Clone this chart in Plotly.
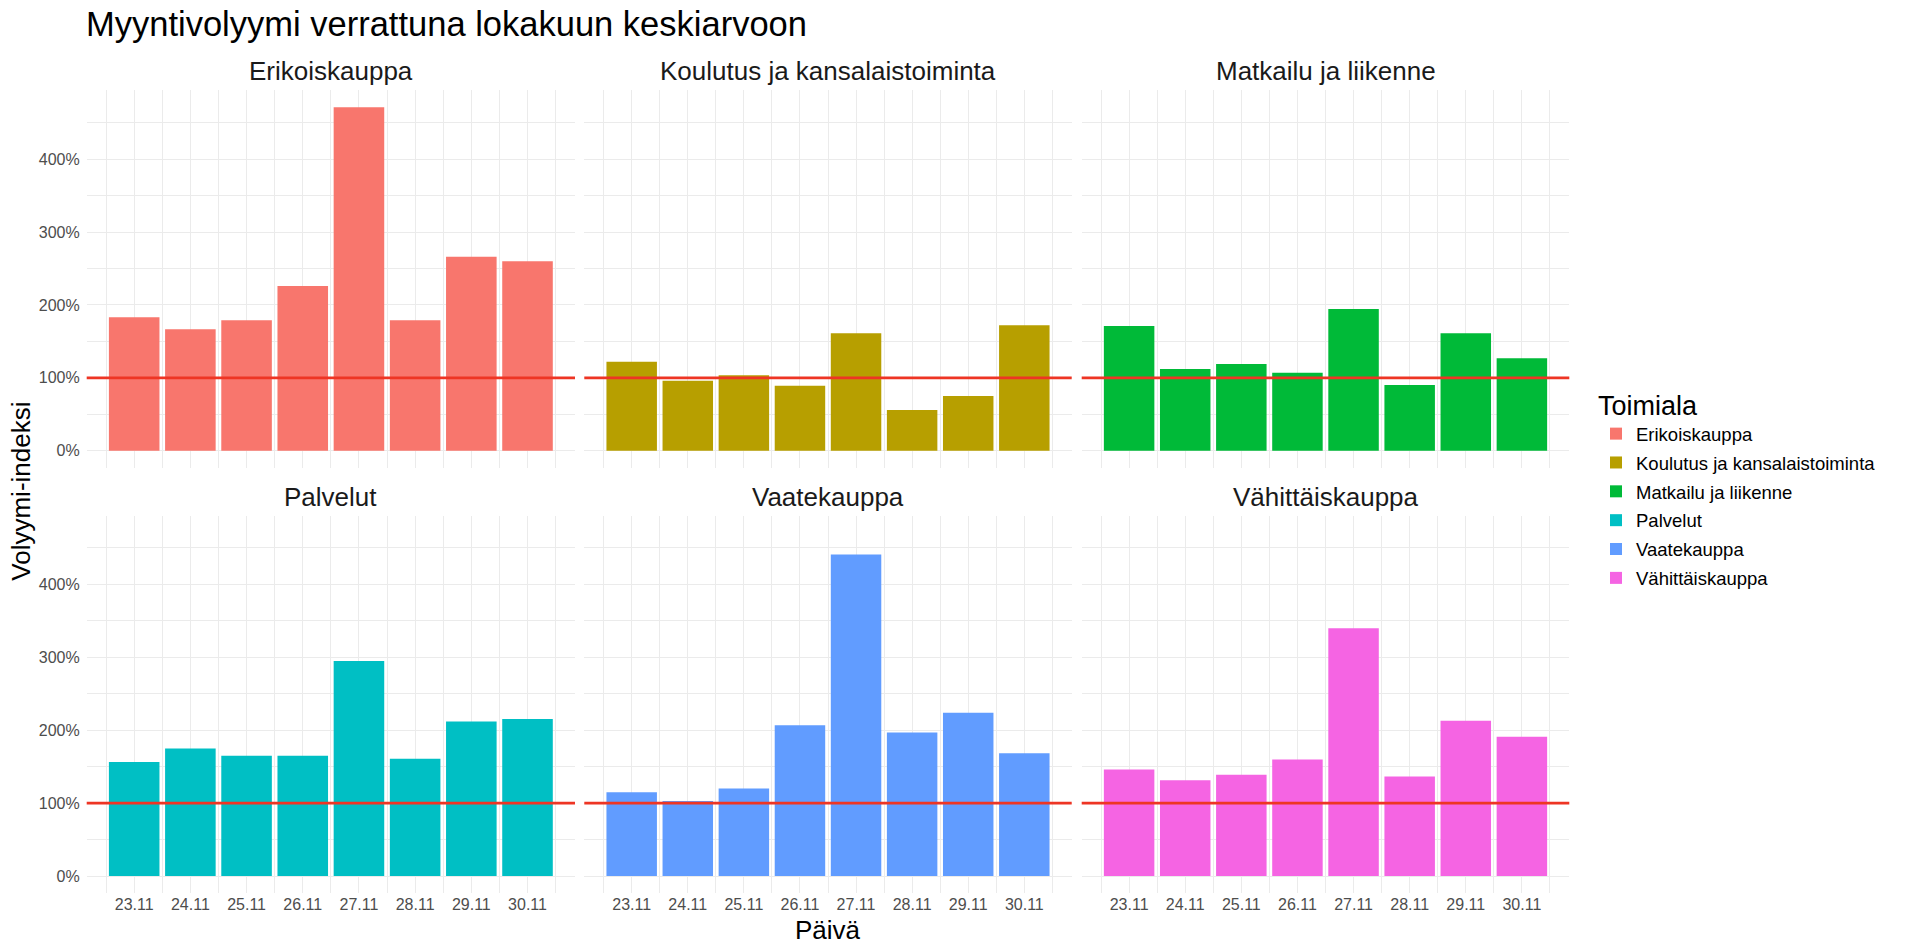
import plotly.graph_objects as go

W, H = 1920, 951

days = ["23.11", "24.11", "25.11", "26.11", "27.11", "28.11", "29.11", "30.11"]
sectors = ["Erikoiskauppa", "Koulutus ja kansalaistoiminta", "Matkailu ja liikenne",
           "Palvelut", "Vaatekauppa", "Vähittäiskauppa"]
colors = ["#F8766D", "#B79F00", "#00BA38", "#00BFC4", "#619CFF", "#F564E3"]

# volyymi-indeksi (1.0 = lokakuun keskiarvo)
erikoiskauppa = [1.83, 1.665, 1.79, 2.26, 4.71, 1.79, 2.66, 2.60]
koulutus = [1.22, 0.96, 1.035, 0.89, 1.61, 0.56, 0.75, 1.72]
matkailu = [1.71, 1.12, 1.19, 1.07, 1.945, 0.90, 1.61, 1.27]
palvelut = [1.565, 1.75, 1.65, 1.65, 2.95, 1.61, 2.12, 2.155]
vaatekauppa = [1.15, 1.03, 1.20, 2.07, 4.41, 1.97, 2.24, 1.685]
vahittais = [1.46, 1.315, 1.39, 1.60, 3.40, 1.365, 2.13, 1.91]
series = [erikoiskauppa, koulutus, matkailu, palvelut, vaatekauppa, vahittais]

reference = 1.0
y_ticks = [0, 1, 2, 3, 4]
y_labels = ["0%", "100%", "200%", "300%", "400%"]


def px(x):
    return x / W


def py(y):
    return 1 - y / H


# panel positions in page pixels
col_px = [(86.7, 575.0), (584.3, 1071.7), (1081.7, 1569.3)]
row_px = [(90.2, 467.9), (515.5, 893.2)]

x_pos = [i + 1 for i in range(len(days))]
ymax = max(max(s) for s in series)
yrange = [-0.05 * ymax, 1.05 * ymax]
xrange = [0.55 - 0.05 * 7.9, 8.45 + 0.05 * 7.9]

grid = "#EBEBEB"
fig = go.Figure()
layout = {}
annotations = []
shapes = []

for k, (name, vals, col) in enumerate(zip(sectors, series, colors)):
    r, c = divmod(k, 3)
    n = k + 1
    xa = "x" if n == 1 else f"x{n}"
    ya = "y" if n == 1 else f"y{n}"
    fig.add_trace(go.Bar(x=x_pos, y=vals, width=0.9, name=name, legendgroup=name,
                         marker=dict(color=col, line=dict(width=0)),
                         xaxis=xa, yaxis=ya))
    x0, x1 = col_px[c]
    y0, y1 = row_px[r]
    layout["xaxis" if n == 1 else f"xaxis{n}"] = dict(
        domain=[px(x0), px(x1)], anchor=ya, range=xrange,
        tickmode="array", tickvals=x_pos, ticktext=days,
        showticklabels=(r == 1), ticks="", showline=False, zeroline=False,
        showgrid=True, gridcolor=grid, gridwidth=1.4,
        minor=dict(tickmode="array", tickvals=[p - 0.5 for p in x_pos] + [x_pos[-1] + 0.5],
                   showgrid=True, gridcolor=grid, gridwidth=0.8),
        tickfont=dict(size=16, color="#4D4D4D"), automargin=False, fixedrange=True)
    layout["yaxis" if n == 1 else f"yaxis{n}"] = dict(
        domain=[py(y1), py(y0)], anchor=xa, range=yrange,
        tickmode="array", tickvals=y_ticks, ticktext=y_labels,
        showticklabels=(c == 0), ticks="", showline=False, zeroline=False,
        showgrid=True, gridcolor=grid, gridwidth=1.4,
        minor=dict(tickmode="array", tickvals=[t + 0.5 for t in y_ticks],
                   showgrid=True, gridcolor=grid, gridwidth=0.8),
        ticklabelstandoff=6,
        tickfont=dict(size=16, color="#4D4D4D"), automargin=False, fixedrange=True)
    shapes.append(dict(type="line", xref=f"{xa} domain", yref=ya, x0=0, x1=1,
                       y0=reference, y1=reference, line=dict(color="#EE3524", width=2.6),
                       layer="above"))
    annotations.append(dict(text=name, xref="paper", yref="paper",
                            x=px((x0 + x1) / 2), y=py(y0 - 19),
                            xanchor="center", yanchor="middle", showarrow=False,
                            font=dict(size=26, color="#1A1A1A")))

annotations.append(dict(text="Myyntivolyymi verrattuna lokakuun keskiarvoon",
                        xref="paper", yref="paper", x=px(84), y=py(24),
                        xanchor="left", yanchor="middle", showarrow=False,
                        font=dict(size=34.5, color="black")))
annotations.append(dict(text="Päivä", xref="paper", yref="paper",
                        x=px((col_px[0][0] + col_px[2][1]) / 2), y=py(930),
                        xanchor="center", yanchor="middle", showarrow=False,
                        font=dict(size=26, color="black")))
annotations.append(dict(text="Volyymi-indeksi", xref="paper", yref="paper",
                        x=px(21), y=py((row_px[0][0] + row_px[1][1]) / 2),
                        xanchor="center", yanchor="middle", showarrow=False, textangle=-90,
                        font=dict(size=26, color="black")))

fig.update_layout(
    width=W, height=H,
    margin=dict(l=0, r=0, t=0, b=0),
    paper_bgcolor="white", plot_bgcolor="white",
    font=dict(family="Liberation Sans, Arial, sans-serif", color="black"),
    bargap=0.1,
    showlegend=True,
    legend=dict(title=dict(text="Toimiala", font=dict(size=27)),
                font=dict(size=18.5, color="black"),
                x=px(1596), y=py(380), xanchor="left", yanchor="top",
                bgcolor="rgba(0,0,0,0)", tracegroupgap=1.8, itemclick=False),
    annotations=annotations,
    shapes=shapes,
    **layout,
)

# drop the browser's default 8px body margin so the figure fills the window
fig.write_html("out.html", config={"displayModeBar": False},
               post_script="document.body.style.margin = '0';")
